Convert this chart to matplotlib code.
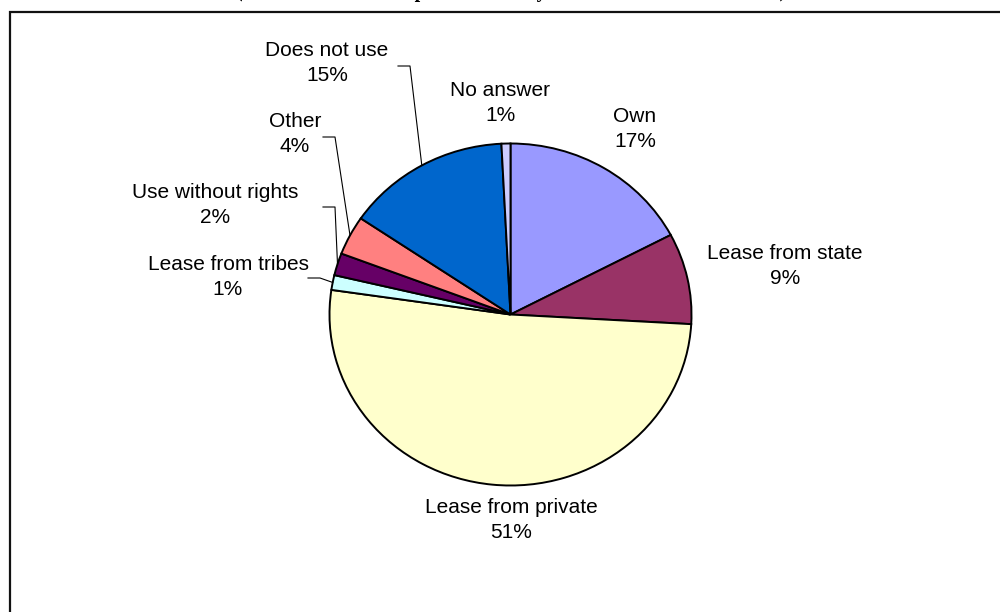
import matplotlib.pyplot as plt
from matplotlib.patches import Rectangle
import numpy as np

# slices, clockwise from 12 o'clock
categories = ['Own', 'Lease from state', 'Lease from private', 'Lease from tribes',
              'Use without rights', 'Other', 'Does not use', 'No answer']
shares = [17.3, 8.6, 51.4, 1.4, 2.1, 3.7, 14.7, 0.8]
colors = ['#9999FF', '#993366', '#FFFFCC', '#CCFFFF',
          '#660066', '#FF8080', '#0066CC', '#CCCCFF']

# label centres in pixels (from top-left), and where leader lines start
label_px = [(635, 129), (785, 266), (511, 520), (228, 277),
            (215, 205), (295, 134), (327, 63), (500, 103)]
leader_px = {3: (308, 278), 4: (323, 207), 5: (323, 137), 6: (398, 66)}

W, H = 1000, 612
cx, cy = 510.5, 314.5      # pie centre in pixels
rx, ry = 181, 171          # excel squashes the pie a little

def to_data(px, py):
    return (px - cx) / rx, (cy - py) / ry

fig = plt.figure(figsize=(W / 100, H / 100), dpi=100)
ax = fig.add_axes([0, 0, 1, 1])

wedges, _ = ax.pie(shares, colors=colors, startangle=90, counterclock=False,
                   wedgeprops=dict(edgecolor='black', linewidth=1.4))
ax.set_aspect('auto')
ax.set_xlim(-cx / rx, (W - cx) / rx)
ax.set_ylim(-(H - cy) / ry, cy / ry)
ax.axis('off')

for i, (name, val) in enumerate(zip(categories, shares)):
    lx, ly = to_data(*label_px[i])
    ax.text(lx, ly, f'{name}\n{val:.0f}%', ha='center', va='center',
            fontsize=15, family='Liberation Sans', linespacing=1.35)

# leader lines for the thin slices
for i, (px, py) in leader_px.items():
    w = wedges[i]
    mid = np.deg2rad((w.theta1 + w.theta2) / 2)
    ex, ey = np.cos(mid), np.sin(mid)
    sx, sy = to_data(px, py)
    kx, _ = to_data(px + 12, py)
    ax.plot([sx, kx, ex], [sy, sy, ey], color='black', lw=0.8)

# chart frame, runs off the right and bottom edges
fig.add_artist(Rectangle((10 / W, -0.1), 1.2, 1.1 - 12 / H,
                         transform=fig.transFigure, fill=False,
                         edgecolor='#111111', linewidth=1.6))

# title is cut off by the top of the picture, only descenders show
fig.text(511 / W, 1 + 2.5 / H,
         '(Tenure status of the pasture land by share of the total area used)',
         ha='center', va='baseline', fontsize=14.3, fontweight='bold',
         family='Liberation Serif')

fig.savefig('out.png', dpi=100)
